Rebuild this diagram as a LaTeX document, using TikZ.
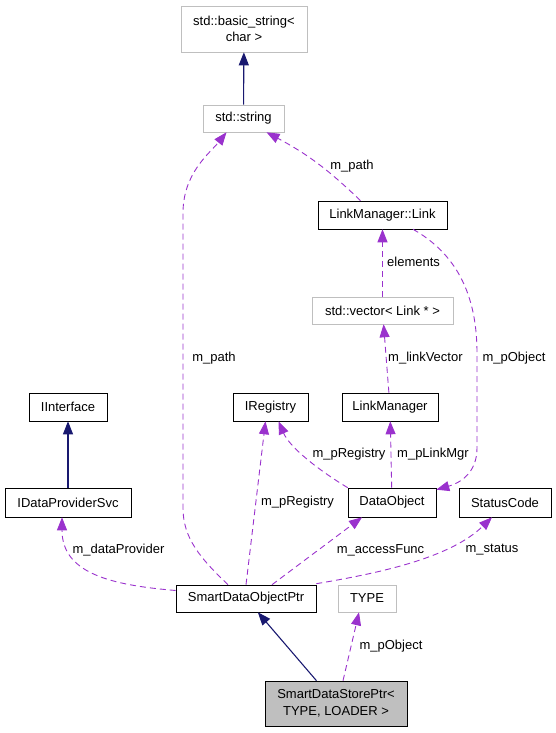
\documentclass[tikz,border=0pt]{standalone}
\usepackage{fontspec}
\setmainfont{Liberation Sans}
\usetikzlibrary{arrows.meta}
\definecolor{navyline}{HTML}{191970}
\definecolor{usecol}{HTML}{9A32CD}
\definecolor{boxgray}{HTML}{BFBFBF}

\begin{document}
\begin{tikzpicture}
        [x=1pt, y=1pt,
        font=\fontsize{13}{16.5}\selectfont,
        cls/.style={rectangle, draw=black, fill=white, semithick, minimum height=28, inner sep=2pt, align=center},
        ext/.style={cls, draw=boxgray},
        mainbox/.style={cls, fill=boxgray},
        inh/.style={-{Triangle[length=13pt,width=10pt]}, draw=navyline, line width=1.1pt},
        use/.style={-{Triangle[length=13pt,width=10pt]}, draw=usecol, dash pattern=on 6pt off 4pt, line width=0.9pt},
        lbl/.style={inner sep=0pt}]
        \useasboundingbox (0,0) rectangle (556,733);
        \node (bstr) at (244, 704) [ext, minimum width=126, minimum height=46] {std::basic\_string<\\char >};
        \node (str) at (243.5, 614.5) [ext, minimum width=81, minimum height=27] {std::string}
           edge[inh] (bstr);
        \node (link) at (382.5, 518) [cls, minimum width=129] {LinkManager::Link};
        \node (vec) at (382.5, 422.5) [ext, minimum width=141, minimum height=27] {std::vector< Link * >}
           edge[use] (link);
        \node (iif) at (68, 326) [cls, minimum width=78] {IInterface};
        \node (ireg) at (270.5, 326) [cls, minimum width=75] {IRegistry};
        \node (lmgr) at (390, 326) [cls, minimum width=96] {LinkManager}
           edge[use] (vec);
        \node (idps) at (68, 230.5) [cls, minimum width=126, minimum height=29] {IDataProviderSvc}
           edge[inh] (iif);
        \node (dobj) at (392, 230.5) [cls, minimum width=88, minimum height=29] {DataObject}
           edge[use] (lmgr);
        \node (stat) at (505, 230.5) [cls, minimum width=92, minimum height=29] {StatusCode};
        \node (sdop) at (246, 134.5) [cls, minimum width=140, minimum height=27] {SmartDataObjectPtr};
        \node (type) at (367, 134.5) [ext, minimum width=58, minimum height=27] {TYPE};
        \node (sdsp) at (336, 29.5) [mainbox, minimum width=142, minimum height=45] {SmartDataStorePtr<\\TYPE, LOADER >}
           edge[inh] (sdop);
        \path ([xshift=7pt]sdsp.north) edge[use] ([xshift=-8pt]type.south);
        \draw[use] ([yshift=8pt]sdop.west) .. controls (110,148) and (62,160) .. ([xshift=-6pt]idps.south);
        \draw[use] ([xshift=-18pt]sdop.north) .. controls (200,175) and (183,195) .. (183,225)
           -- (183,520) .. controls (183,560) and (210,580) .. ([xshift=-17pt]str.south);
        \path (sdop.north) edge[use] ([xshift=-5pt]ireg.south);
        \path ([xshift=26pt]sdop.north) edge[use] ([xshift=-30pt]dobj.south);
        \draw[use] ([yshift=1pt]sdop.north east) .. controls (380,160) and (450,175) .. ([xshift=-13pt]stat.south);
        \draw[use] (dobj.north west) .. controls (320,262) and (290,285) .. ([xshift=8pt]ireg.south);
        \draw[use] ([xshift=30.5pt]link.south) .. controls (455,480) and (477,440) .. (477,380)
           -- (477,285) .. controls (477,260) and (460,250) .. ([yshift=-2pt]dobj.north east);
        \path ([xshift=-22pt]link.north) edge[use, bend right=8] ([xshift=23pt]str.south);
        % labels
        \node (lpobj) at (391, 87) [lbl] {m\_pObject};
        \node (ldprov) at (118.5, 183) [lbl] {m\_dataProvider};
        \node (lpath) at (214, 375) [lbl] {m\_path};
        \node (lpreg) at (297.5, 231) [lbl] {m\_pRegistry};
        \node (lacc) at (380.5, 183) [lbl] {m\_accessFunc};
        \node (lstat) at (492, 183) [lbl] {m\_status};
        \node (lpreg2) at (349, 279) [lbl] {m\_pRegistry};
        \node (lmgrl) at (397, 279) [lbl, anchor=west] {m\_pLinkMgr};
        \node (lpobj2) at (514, 375) [lbl] {m\_pObject};
        \node (lvec) at (388, 375) [lbl, anchor=west] {m\_linkVector};
        \node (lelem) at (387, 471) [lbl, anchor=west] {elements};
        \node (lpath2) at (352, 567) [lbl] {m\_path};
     \end{tikzpicture}
\end{document}
